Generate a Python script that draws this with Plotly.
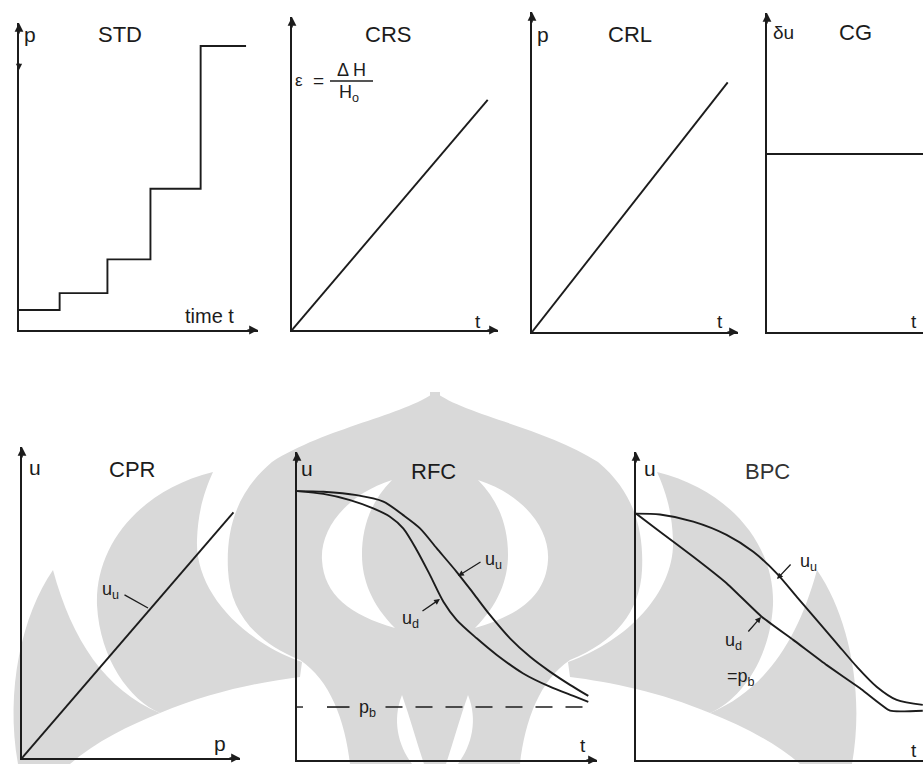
import plotly.graph_objects as go

W, H = 923, 764
INK = "#1c1c1c"
FONT = "Liberation Sans, Arial, sans-serif"

# ---------------- data (arbitrary units, 0..10 per panel) ----------------
std_time = [0, 1.7, 3.7, 5.5, 7.6, 9.5]
std_load = [0.65, 1.2, 2.3, 4.6, 9.25, 9.25]

crs_time = [0, 9.5]
crs_strain = [0, 7.35]

crl_time = [0, 9.5]
crl_load = [0, 7.8]

cg_time = [0, 10]
cg_du = [5.58, 5.58]

cpr_load = [0, 9.7]
cpr_uu = [0, 7.9]

rfc_time_u = [0, 0.88, 1.99, 2.88, 3.54, 4.10, 4.66, 5.32, 5.88, 6.43, 7.10, 7.77, 8.43, 9.10, 9.71]
rfc_uu = [8.73, 8.71, 8.60, 8.39, 7.95, 7.52, 6.87, 6.11, 5.41, 4.71, 3.95, 3.35, 2.87, 2.44, 2.08]
rfc_time_d = [0, 0.88, 1.77, 2.54, 3.10, 3.54, 3.99, 4.43, 4.88, 5.32, 5.99, 6.66, 7.54, 8.43, 9.21, 9.71]
rfc_ud = [8.73, 8.64, 8.44, 8.17, 7.90, 7.52, 6.82, 6.01, 5.14, 4.55, 3.95, 3.41, 2.81, 2.38, 2.08, 1.89]
rfc_pb = 1.72
rfc_pb_start = [1.0, 1.75]
rfc_pb_end = [2.95, 9.7]

bpc_time_u = [0, 0.8, 1.91, 3.02, 3.91, 4.69, 5.36, 6.02, 6.69, 7.36, 8.02, 8.69, 9.56]
bpc_uu = [8.0, 7.97, 7.74, 7.31, 6.76, 6.06, 5.30, 4.55, 3.79, 3.03, 2.38, 1.95, 1.79]
bpc_time_d = [0, 0.8, 1.91, 3.02, 4.19, 5.24, 6.36, 7.47, 8.47, 9.56]
bpc_ud = [8.0, 7.41, 6.60, 5.74, 4.65, 3.90, 3.08, 2.33, 1.60, 1.60]

# ---------------- panel layout (pixel boxes) ----------------
# name: (origin x, origin y, x-axis end, y-axis top, xmax, ymax, x-arrow)
panels = {
    "STD": (19, 330, 258, 23, 10, 10, True),
    "CRS": (292, 330, 498, 17, 10, 10, True),
    "CRL": (532, 332, 738, 12, 10, 10, True),
    "CG": (767, 332, 923, 13, 10, 10, False),
    "CPR": (22, 758, 240, 447, 10, 10, True),
    "RFC": (297, 760, 597, 452, 10, 10, True),
    "BPC": (636, 760, 923, 452, 9.567, 10, False),
}
order = list(panels.keys())


def P(x, y):
    return x / W, 1 - y / H


fig = go.Figure()
layout = {}
annotations = []
axref = {}
for i, name in enumerate(order, start=1):
    ox, oy, ex, ty, xmax, ymax, xarrow = panels[name]
    xs = "" if i == 1 else str(i)
    axref[name] = ("x" + xs, "y" + xs)
    common = dict(showline=True, linecolor=INK, linewidth=1.8, showgrid=False,
                  zeroline=False, showticklabels=False, ticks="", fixedrange=True)
    layout["xaxis" + xs] = dict(domain=[ox / W, min(ex / W, 1)], range=[0, xmax],
                                anchor="y" + xs, **common)
    layout["yaxis" + xs] = dict(domain=[1 - oy / H, 1 - ty / H], range=[0, ymax],
                                anchor="x" + xs, **common)
    # arrowheads
    tx, tyy = P(ox, ty)
    annotations.append(dict(x=tx, y=tyy, xref="paper", yref="paper", ax=0, ay=12,
                            text="", showarrow=True, arrowhead=2, arrowsize=1.1,
                            arrowwidth=1.6, arrowcolor=INK))
    if xarrow:
        tx, tyy = P(ex, oy)
        annotations.append(dict(x=tx, y=tyy, xref="paper", yref="paper", ax=-12, ay=0,
                                text="", showarrow=True, arrowhead=2, arrowsize=1.1,
                                arrowwidth=1.6, arrowcolor=INK))

# small load-increment mark on the STD p axis
tx, tyy = P(19, 70)
annotations.append(dict(x=tx, y=tyy, xref="paper", yref="paper", ax=0, ay=-8,
                        text="", showarrow=True, arrowhead=2, arrowsize=0.9,
                        arrowwidth=1.4, arrowcolor=INK))


def add_line(name, x, y, shape="linear", dash=None, smoothing=1.0, width=1.9):
    xa, ya = axref[name]
    fig.add_trace(go.Scatter(x=x, y=y, mode="lines", xaxis=xa, yaxis=ya,
                             line=dict(color=INK, width=width, shape=shape,
                                       dash=dash, smoothing=smoothing),
                             hoverinfo="skip", showlegend=False))


add_line("STD", std_time, std_load, shape="hv")
add_line("CRS", crs_time, crs_strain)
add_line("CRL", crl_time, crl_load)
add_line("CG", cg_time, cg_du)
add_line("CPR", cpr_load, cpr_uu)
add_line("RFC", rfc_time_u, rfc_uu, shape="spline", smoothing=0.8)
add_line("RFC", rfc_time_d, rfc_ud, shape="spline", smoothing=0.8)
add_line("RFC", rfc_pb_start, [rfc_pb, rfc_pb], width=1.6)
add_line("RFC", rfc_pb_end, [rfc_pb, rfc_pb], dash="17px,13px", width=1.6)
add_line("RFC", [0, 0.2], [rfc_pb, rfc_pb], width=1.4)
add_line("BPC", bpc_time_u, bpc_uu, shape="spline", smoothing=0.8)
add_line("BPC", bpc_time_d, bpc_ud, shape="spline", smoothing=0.4)


# ---------------- text ----------------
def txt(s, x, y, size=21, xanchor="center", color=INK):
    px, py = P(x, y)
    annotations.append(dict(x=px, y=py, xref="paper", yref="paper", text=s,
                            showarrow=False, xanchor=xanchor, yanchor="middle",
                            font=dict(family=FONT, size=size, color=color)))


def leader(tip, tail, head=2):
    px, py = P(*tip)
    annotations.append(dict(x=px, y=py, xref="paper", yref="paper", text="",
                            ax=tail[0] - tip[0], ay=tail[1] - tip[1], showarrow=True,
                            arrowhead=head, arrowsize=0.9, arrowwidth=1.3,
                            arrowcolor=INK))


for name, (x, y) in {"STD": (120, 34), "CRS": (388, 34), "CRL": (630, 34),
                     "CG": (855, 33), "CPR": (132, 469), "RFC": (433, 471),
                     "BPC": (767, 471)}.items():
    txt(name, x, y, size=22, color="#333" if name == "BPC" else INK)

txt("p", 22, 34, size=21, xanchor="left")
txt("p", 535, 34, size=21, xanchor="left")
txt("δu", 771, 33, size=19, xanchor="left")
txt("u", 27, 467, size=21, xanchor="left")
txt("u", 299, 468, size=21, xanchor="left")
txt("u", 642, 468, size=21, xanchor="left")

txt("time t", 209, 316, size=20)
txt("t", 478, 321, size=19)
txt("t", 720, 321, size=19)
txt("t", 914, 321, size=19)
txt("p", 220, 743, size=21)
txt("t", 583, 745, size=19)
txt("t", 914, 750, size=19)

# CRS strain definition
txt("ε", 299, 80, size=17)
txt("=", 318, 80, size=19)
txt("Δ H", 351, 70, size=18)
txt("H<sub>o</sub>", 349, 93, size=18)

# curve labels
txt("u<sub>u</sub>", 110, 590, size=18)
leader((148, 608), (123, 594), head=0)
txt("u<sub>u</sub>", 494, 560, size=18)
leader((458, 576), (482, 561))
txt("u<sub>d</sub>", 410, 619, size=18)
leader((440, 599), (421, 612))
txt("p<sub>b</sub>", 367, 708, size=18)
txt("u<sub>u</sub>", 808, 562, size=18)
leader((777, 579), (792, 563))
txt("u<sub>d</sub>", 733, 641, size=18)
leader((761, 617), (747, 633))
txt("=p<sub>b</sub>", 741, 677, size=18)

# ---------------- watermark (background decoration) ----------------
GRAY = "#d9d9d9"
CX = 435


def mirror(cmds):
    out = []
    for c in cmds:
        if c[0] == "Z":
            out.append(c)
        else:
            vals = list(c[1:])
            for k in range(0, len(vals), 2):
                vals[k] = 2 * CX - vals[k]
            out.append((c[0], *vals))
    return out


def path(cmds):
    parts = []
    for c in cmds:
        if c[0] == "Z":
            parts.append("Z")
            continue
        vals = c[1:]
        pts = []
        for k in range(0, len(vals), 2):
            px, py = P(vals[k], vals[k + 1])
            pts.append(f"{px:.5f},{py:.5f}")
        parts.append(c[0] + " " + " ".join(pts))
    return " ".join(parts)


bulb = [("M", 440, 392), ("L", 435, 392), ("C", 405, 415, 325, 428, 272, 462),
        ("C", 236, 492, 226, 530, 228, 570), ("C", 230, 612, 255, 642, 300, 660),
        ("C", 330, 680, 345, 720, 350, 764), ("L", 440, 764), ("Z",)]
petal_a = [("M", 213, 472), ("C", 140, 490, 95, 545, 97, 605),
           ("C", 100, 660, 130, 700, 160, 713), ("C", 210, 692, 260, 682, 300, 677),
           ("L", 302, 662), ("C", 240, 640, 195, 590, 197, 540),
           ("C", 198, 510, 205, 490, 213, 472), ("Z",)]
petal_b = [("M", 53, 570), ("C", 22, 615, 5, 690, 18, 764), ("L", 70, 764),
           ("C", 95, 742, 130, 725, 160, 713), ("C", 105, 690, 72, 640, 53, 570), ("Z",)]
crescent = [("M", 392, 480), ("C", 345, 495, 320, 530, 322, 560),
            ("C", 324, 595, 350, 615, 395, 628), ("C", 372, 605, 362, 580, 362, 555),
            ("C", 362, 525, 372, 500, 392, 480), ("Z",)]
root = [("M", 402, 695), ("C", 392, 720, 398, 745, 412, 764), ("L", 424, 764),
        ("C", 416, 740, 410, 718, 402, 695), ("Z",)]

shapes = []
for shp, col in [(bulb, GRAY), (petal_a, GRAY), (petal_b, GRAY),
                 (crescent, "white"), (root, "white")]:
    for variant in (shp, mirror(shp)):
        shapes.append(dict(type="path", path=path(variant), xref="paper", yref="paper",
                           fillcolor=col, line=dict(width=0), layer="below"))

# fraction bar
x0, y0 = P(330, 81)
x1, y1 = P(373, 81)
shapes.append(dict(type="line", x0=x0, y0=y0, x1=x1, y1=y1, xref="paper", yref="paper",
                   line=dict(color=INK, width=1.5)))

fig.update_layout(width=W, height=H, margin=dict(l=0, r=0, t=0, b=0),
                  paper_bgcolor="white", plot_bgcolor="rgba(0,0,0,0)",
                  showlegend=False, annotations=annotations, shapes=shapes, **layout)

fig.write_html("out.html", config={"displayModeBar": False},
               post_script="document.body.style.margin='0px';"
                           "document.body.style.overflow='hidden';")
